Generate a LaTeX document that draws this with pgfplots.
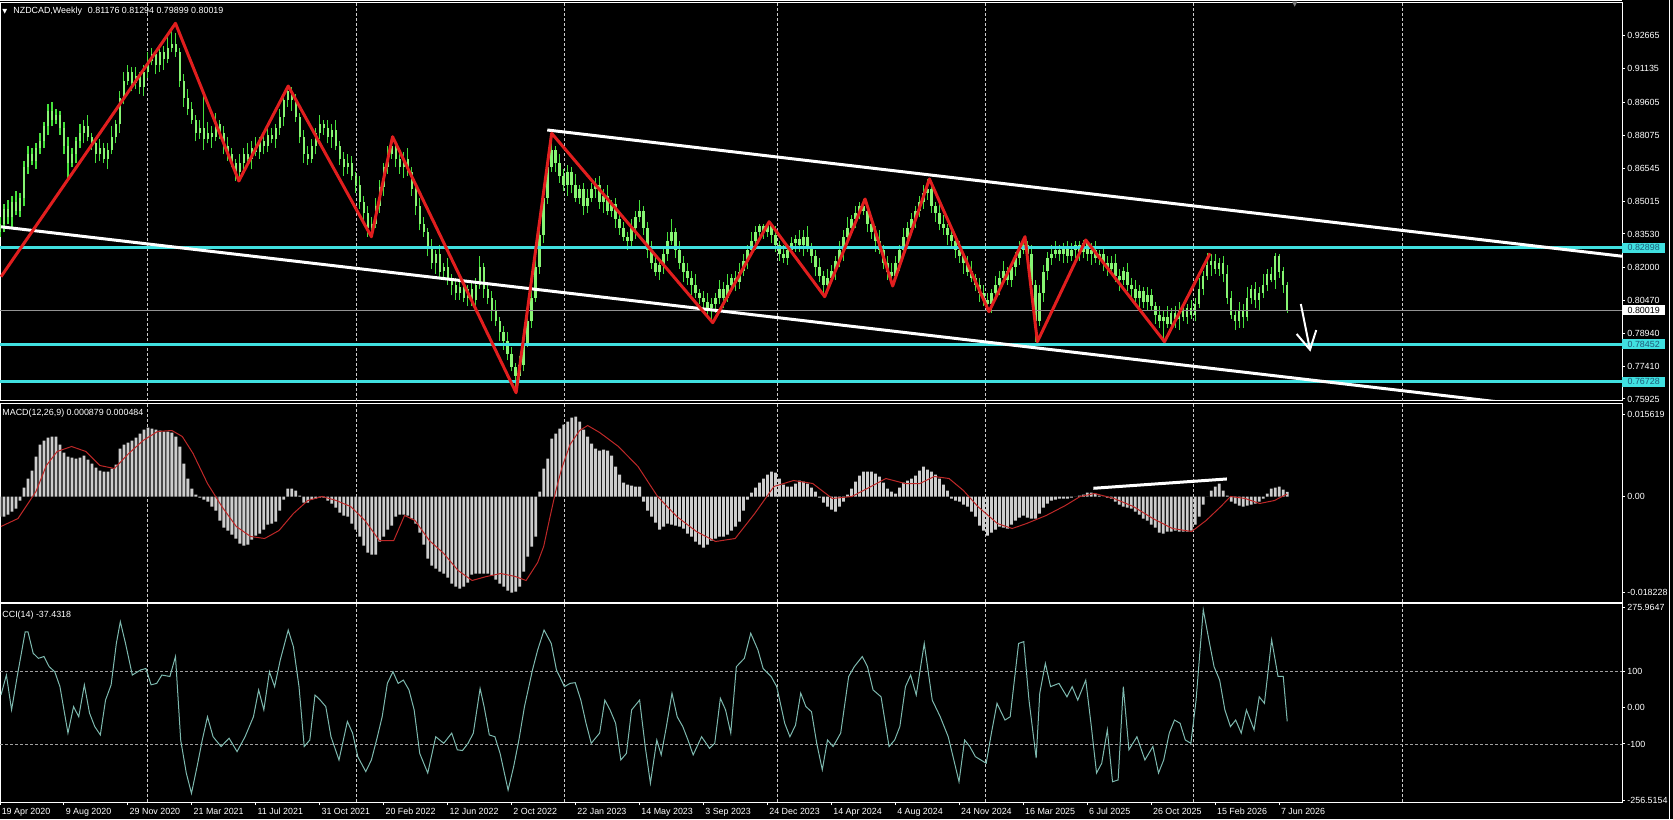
\documentclass[border=0pt]{standalone}
\usepackage{pgfplots}
\pgfplotsset{compat=1.18}
\usepackage{pgfplotstable}
\usepackage{fontspec}
\setmainfont{Liberation Sans}
\newfontfamily\symf{DejaVu Sans}
\usetikzlibrary{arrows.meta}
\definecolor{candle}{RGB}{70,225,60}
\definecolor{candlebody}{RGB}{135,245,115}
\definecolor{turq}{RGB}{64,224,224}
\definecolor{lbl}{RGB}{30,90,120}
\definecolor{zz}{RGB}{225,30,30}
\definecolor{macdbar}{RGB}{205,205,205}
\definecolor{sig}{RGB}{190,40,40}
\definecolor{cciline}{RGB}{125,185,175}
\newcommand\mtf{\fontsize{4.45pt}{5pt}\selectfont}

\pgfplotstableread{
o h l c m
0.836 0.843 0.834 0.840 -0.0038
0.840 0.849 0.836 0.847 -0.0038
0.847 0.851 0.840 0.843 -0.00342
0.843 0.853 0.838 0.850 -0.00285
0.850 0.855 0.844 0.846 -0.00228
0.846 0.854 0.843 0.852 -0.00076
0.852 0.869 0.848 0.866 0.00171
0.866 0.876 0.863 0.872 0.00342
0.872 0.875 0.867 0.869 0.00494
0.869 0.877 0.865 0.875 0.0076
0.875 0.882 0.872 0.878 0.00988
0.878 0.887 0.875 0.885 0.01064
0.885 0.895 0.881 0.892 0.01121
0.892 0.896 0.885 0.888 0.0114
0.888 0.893 0.886 0.890 0.0114
0.890 0.892 0.881 0.884 0.00988
0.884 0.887 0.872 0.876 0.00836
0.876 0.880 0.860 0.868 0.0076
0.868 0.875 0.866 0.872 0.00741
0.872 0.880 0.868 0.878 0.00722
0.878 0.886 0.875 0.882 0.00741
0.882 0.888 0.877 0.885 0.00779
0.885 0.890 0.878 0.880 0.00703
0.880 0.882 0.874 0.877 0.00627
0.877 0.880 0.868 0.872 0.00551
0.872 0.879 0.869 0.875 0.00494
0.875 0.877 0.868 0.870 0.00475
0.870 0.877 0.865 0.874 0.00475
0.874 0.885 0.872 0.880 0.00532
0.880 0.888 0.877 0.886 0.00608
0.886 0.901 0.882 0.898 0.00912
0.898 0.910 0.895 0.906 0.00988
0.906 0.913 0.904 0.910 0.01026
0.910 0.912 0.901 0.905 0.01064
0.905 0.912 0.902 0.908 0.01121
0.908 0.910 0.900 0.903 0.01197
0.903 0.913 0.899 0.910 0.01273
0.910 0.919 0.907 0.915 0.01311
0.915 0.921 0.913 0.918 0.01292
0.918 0.920 0.909 0.913 0.01273
0.913 0.923 0.910 0.919 0.01254
0.919 0.922 0.911 0.916 0.01235
0.916 0.926 0.914 0.921 0.01235
0.921 0.930 0.919 0.923 0.01216
0.923 0.928 0.917 0.919 0.0114
0.919 0.921 0.903 0.906 0.0095
0.906 0.909 0.894 0.898 0.00627
0.898 0.902 0.890 0.893 0.00342
0.893 0.896 0.886 0.888 0.00152
0.888 0.890 0.878 0.882 0.00038
0.882 0.888 0.879 0.884 -0.00019
0.884 0.900 0.874 0.879 -0.00057
0.879 0.887 0.877 0.882 -0.00095
0.882 0.885 0.875 0.880 -0.0019
0.880 0.891 0.878 0.886 -0.00266
0.886 0.888 0.879 0.882 -0.00456
0.882 0.885 0.872 0.876 -0.00589
0.876 0.880 0.869 0.872 -0.00646
0.872 0.875 0.866 0.868 -0.00722
0.868 0.870 0.8597 0.864 -0.00798
0.864 0.872 0.861 0.868 -0.00893
0.868 0.875 0.863 0.872 -0.00931
0.872 0.877 0.868 0.870 -0.00912
0.870 0.878 0.865 0.875 -0.00817
0.875 0.880 0.871 0.873 -0.00741
0.873 0.880 0.870 0.878 -0.00703
0.878 0.881 0.872 0.876 -0.00627
0.876 0.885 0.873 0.881 -0.00532
0.881 0.884 0.877 0.879 -0.00513
0.879 0.886 0.875 0.884 -0.00475
0.884 0.893 0.881 0.889 -0.00266
0.889 0.900 0.885 0.897 -0.00057
0.897 0.9035 0.894 0.901 0.00152
0.901 0.903 0.892 0.897 0.00152
0.897 0.900 0.887 0.889 0.00114
0.889 0.891 0.877 0.880 0.00019
0.880 0.883 0.868 0.872 -0.00114
0.872 0.876 0.867 0.870 -0.00114
0.870 0.879 0.868 0.876 -0.00057
0.876 0.884 0.872 0.882 -0.00038
0.882 0.890 0.879 0.886 -0.00019
0.886 0.888 0.881 0.884 -0.00019
0.884 0.888 0.877 0.880 -0.00076
0.880 0.886 0.875 0.883 -0.00133
0.883 0.888 0.874 0.876 -0.00209
0.876 0.878 0.867 0.870 -0.00304
0.870 0.873 0.862 0.866 -0.00361
0.866 0.872 0.863 0.868 -0.0038
0.868 0.871 0.860 0.862 -0.00513
0.862 0.864 0.854 0.858 -0.00627
0.858 0.862 0.847 0.850 -0.0076
0.850 0.853 0.841 0.845 -0.00931
0.845 0.848 0.834 0.838 -0.01064
0.838 0.843 0.835 0.840 -0.01102
0.840 0.852 0.838 0.848 -0.01102
0.848 0.860 0.845 0.857 -0.00855
0.857 0.868 0.853 0.866 -0.0076
0.866 0.876 0.863 0.872 -0.00627
0.872 0.880 0.870 0.876 -0.00551
0.876 0.878 0.866 0.870 -0.0038
0.870 0.874 0.863 0.866 -0.00342
0.866 0.873 0.861 0.870 -0.00342
0.870 0.875 0.862 0.864 -0.00361
0.864 0.866 0.853 0.856 -0.00418
0.856 0.859 0.844 0.848 -0.00513
0.848 0.852 0.837 0.840 -0.00684
0.840 0.843 0.834 0.836 -0.00912
0.836 0.838 0.825 0.829 -0.01178
0.829 0.833 0.819 0.822 -0.01311
0.822 0.828 0.817 0.826 -0.01368
0.826 0.830 0.815 0.818 -0.01425
0.818 0.822 0.814 0.820 -0.01463
0.820 0.824 0.812 0.815 -0.01539
0.815 0.817 0.807 0.812 -0.01653
0.812 0.815 0.805 0.808 -0.0171
0.808 0.815 0.805 0.811 -0.01748
0.811 0.814 0.804 0.806 -0.0171
0.806 0.812 0.802 0.810 -0.01634
0.810 0.813 0.802 0.805 -0.01482
0.805 0.815 0.800 0.812 -0.01463
0.812 0.825 0.810 0.820 -0.01463
0.820 0.822 0.806 0.810 -0.01463
0.810 0.813 0.803 0.806 -0.01463
0.806 0.809 0.795 0.800 -0.01501
0.800 0.805 0.793 0.795 -0.01577
0.795 0.797 0.786 0.790 -0.01653
0.790 0.793 0.782 0.786 -0.0171
0.786 0.790 0.777 0.780 -0.01786
0.780 0.783 0.772 0.774 -0.01824
0.774 0.776 0.762 0.770 -0.01805
0.770 0.779 0.767 0.775 -0.0171
0.775 0.788 0.772 0.785 -0.01425
0.785 0.799 0.783 0.795 -0.0114
0.795 0.809 0.792 0.806 -0.0095
0.806 0.825 0.804 0.820 -0.0076
0.820 0.837 0.817 0.835 0.00095
0.835 0.855 0.831 0.852 0.00532
0.852 0.870 0.849 0.866 0.00722
0.866 0.881 0.864 0.874 0.01102
0.874 0.876 0.864 0.868 0.01197
0.868 0.872 0.859 0.862 0.01292
0.862 0.865 0.855 0.858 0.01368
0.858 0.867 0.853 0.864 0.01425
0.864 0.866 0.854 0.858 0.01501
0.858 0.863 0.850 0.852 0.0152
0.852 0.858 0.849 0.856 0.01425
0.856 0.859 0.844 0.848 0.01273
0.848 0.856 0.845 0.852 0.0114
0.852 0.859 0.850 0.856 0.01007
0.856 0.861 0.852 0.858 0.00912
0.858 0.862 0.847 0.850 0.00874
0.850 0.856 0.845 0.853 0.00893
0.853 0.858 0.844 0.846 0.00874
0.846 0.851 0.843 0.849 0.00779
0.849 0.852 0.838 0.842 0.0057
0.842 0.846 0.835 0.838 0.00418
0.838 0.841 0.832 0.834 0.00266
0.834 0.836 0.828 0.832 0.00228
0.832 0.842 0.829 0.838 0.00209
0.838 0.846 0.833 0.843 0.0019
0.843 0.851 0.841 0.846 0.0019
0.846 0.848 0.835 0.838 -0.00095
0.838 0.841 0.824 0.828 -0.00266
0.828 0.832 0.819 0.822 -0.0038
0.822 0.825 0.816 0.818 -0.00494
0.818 0.823 0.814 0.821 -0.00627
0.821 0.829 0.817 0.826 -0.0057
0.826 0.836 0.823 0.832 -0.00513
0.832 0.842 0.830 0.836 -0.00532
0.836 0.838 0.824 0.828 -0.00551
0.828 0.832 0.819 0.822 -0.0057
0.822 0.825 0.813 0.818 -0.00608
0.818 0.822 0.812 0.815 -0.00703
0.815 0.818 0.807 0.812 -0.0076
0.812 0.817 0.806 0.808 -0.00855
0.808 0.810 0.803 0.806 -0.00912
0.806 0.809 0.800 0.804 -0.00969
0.804 0.808 0.798 0.801 -0.00912
0.801 0.806 0.7944 0.803 -0.00836
0.803 0.808 0.799 0.806 -0.00798
0.806 0.814 0.803 0.810 -0.0076
0.810 0.813 0.801 0.806 -0.0076
0.806 0.817 0.804 0.812 -0.00722
0.812 0.817 0.809 0.815 -0.00646
0.815 0.818 0.809 0.813 -0.0057
0.813 0.822 0.810 0.818 -0.00475
0.818 0.826 0.816 0.823 -0.00266
0.823 0.830 0.819 0.828 -0.00057
0.828 0.836 0.825 0.832 0.00076
0.832 0.839 0.828 0.836 0.00171
0.836 0.840 0.832 0.839 0.00266
0.839 0.840 0.833 0.836 0.00342
0.836 0.8409 0.834 0.840 0.00418
0.840 0.840 0.831 0.835 0.00475
0.835 0.839 0.827 0.830 0.00456
0.830 0.832 0.823 0.826 0.00342
0.826 0.830 0.822 0.824 0.00228
0.824 0.830 0.821 0.828 0.0019
0.828 0.834 0.826 0.831 0.0019
0.831 0.835 0.827 0.833 0.00247
0.833 0.837 0.827 0.830 0.00304
0.830 0.837 0.825 0.834 0.00285
0.834 0.839 0.827 0.829 0.00247
0.829 0.831 0.822 0.825 0.00171
0.825 0.828 0.816 0.820 0.00095
0.820 0.824 0.813 0.816 -0.00019
0.816 0.818 0.8064 0.812 -0.00114
0.812 0.819 0.809 0.815 -0.0019
0.815 0.821 0.813 0.818 -0.00247
0.818 0.825 0.814 0.823 -0.00285
0.823 0.832 0.820 0.828 -0.0019
0.828 0.837 0.823 0.834 -0.00095
0.834 0.843 0.832 0.838 0.00038
0.838 0.844 0.835 0.842 0.00152
0.842 0.848 0.838 0.845 0.00285
0.845 0.850 0.842 0.848 0.00399
0.848 0.8514 0.844 0.846 0.00475
0.846 0.848 0.836 0.840 0.00475
0.840 0.844 0.833 0.836 0.00475
0.836 0.839 0.827 0.832 0.00437
0.832 0.837 0.826 0.828 0.0038
0.828 0.830 0.819 0.822 0.00266
0.822 0.825 0.814 0.818 0.00152
0.818 0.822 0.8113 0.816 0.00095
0.816 0.825 0.814 0.822 0.00057
0.822 0.830 0.818 0.828 0.00171
0.828 0.838 0.825 0.834 0.00266
0.834 0.841 0.829 0.838 0.00304
0.838 0.845 0.836 0.842 0.00342
0.842 0.848 0.838 0.846 0.00399
0.846 0.853 0.843 0.850 0.00494
0.850 0.858 0.847 0.854 0.0057
0.854 0.8606 0.851 0.856 0.00513
0.856 0.859 0.845 0.848 0.00475
0.848 0.850 0.841 0.845 0.00418
0.845 0.849 0.837 0.840 0.00342
0.840 0.844 0.835 0.838 0.00228
0.838 0.840 0.830 0.835 0.00114
0.835 0.839 0.829 0.832 -0.00038
0.832 0.835 0.824 0.828 -0.00076
0.828 0.832 0.822 0.825 -0.00095
0.825 0.827 0.817 0.822 -0.00152
0.822 0.825 0.816 0.818 -0.0019
0.818 0.823 0.813 0.815 -0.00285
0.815 0.817 0.809 0.812 -0.0038
0.812 0.815 0.804 0.808 -0.00551
0.808 0.812 0.802 0.805 -0.00646
0.805 0.808 0.7995 0.803 -0.00741
0.803 0.810 0.799 0.808 -0.00684
0.808 0.816 0.805 0.812 -0.00627
0.812 0.818 0.807 0.815 -0.0057
0.815 0.823 0.813 0.818 -0.00589
0.818 0.820 0.812 0.814 -0.00608
0.814 0.822 0.811 0.820 -0.00532
0.820 0.827 0.816 0.824 -0.00456
0.824 0.832 0.821 0.828 -0.00399
0.828 0.834 0.826 0.830 -0.00361
0.830 0.832 0.822 0.826 -0.00399
0.826 0.830 0.809 0.812 -0.00418
0.812 0.814 0.7856 0.795 -0.00418
0.795 0.812 0.793 0.808 -0.00323
0.808 0.821 0.804 0.818 -0.00209
0.818 0.827 0.814 0.824 -0.00133
0.824 0.830 0.821 0.826 -0.00076
0.826 0.832 0.824 0.828 -0.00057
0.828 0.830 0.823 0.826 -0.00038
0.826 0.831 0.822 0.829 -0.00038
0.829 0.832 0.822 0.825 -0.00038
0.825 0.831 0.823 0.828 -0.00019
0.828 0.832 0.824 0.830 0
0.830 0.832 0.823 0.827 0.00019
0.827 0.8325 0.824 0.831 0.00038
0.831 0.832 0.823 0.826 0.00076
0.826 0.831 0.821 0.828 0.00076
0.828 0.832 0.822 0.824 0.00057
0.824 0.828 0.821 0.826 0.00019
0.826 0.829 0.818 0.822 0
0.822 0.825 0.816 0.819 -0.00019
0.819 0.825 0.817 0.822 -0.00038
0.822 0.826 0.813 0.816 -0.00095
0.816 0.819 0.809 0.814 -0.00152
0.814 0.820 0.812 0.818 -0.0019
0.818 0.822 0.809 0.812 -0.00209
0.812 0.815 0.806 0.810 -0.00228
0.810 0.814 0.803 0.806 -0.00285
0.806 0.812 0.801 0.809 -0.00342
0.809 0.811 0.801 0.804 -0.00418
0.804 0.811 0.800 0.807 -0.00456
0.807 0.810 0.800 0.802 -0.00532
0.802 0.804 0.794 0.798 -0.00589
0.798 0.802 0.792 0.795 -0.00684
0.795 0.800 0.7856 0.797 -0.00703
0.797 0.802 0.792 0.794 -0.00665
0.794 0.801 0.791 0.799 -0.00665
0.799 0.802 0.792 0.796 -0.00646
0.796 0.804 0.791 0.800 -0.00665
0.800 0.803 0.795 0.797 -0.00665
0.797 0.803 0.794 0.801 -0.00665
0.801 0.805 0.796 0.798 -0.00646
0.798 0.806 0.795 0.803 -0.00532
0.803 0.815 0.801 0.810 -0.0038
0.810 0.818 0.807 0.816 -0.00152
0.816 0.8264 0.814 0.821 0
0.821 0.826 0.816 0.823 0.00114
0.823 0.826 0.817 0.819 0.0019
0.819 0.824 0.816 0.822 0.00247
0.822 0.825 0.813 0.817 0.00114
0.817 0.821 0.803 0.806 0.00019
0.806 0.809 0.796 0.798 -0.00095
0.798 0.800 0.791 0.795 -0.00133
0.795 0.804 0.792 0.800 -0.00171
0.800 0.803 0.792 0.797 -0.0019
0.797 0.811 0.795 0.806 -0.00171
0.806 0.812 0.803 0.810 -0.00152
0.810 0.813 0.801 0.805 -0.00133
0.805 0.811 0.800 0.808 -0.00095
0.808 0.817 0.806 0.812 -0.00038
0.812 0.819 0.809 0.817 0.00057
0.817 0.820 0.813 0.814 0.00152
0.814 0.8264 0.810 0.825 0.00171
0.825 0.826 0.815 0.818 0.0019
0.818 0.820 0.808 0.8118 0.00133
0.81176 0.81294 0.79899 0.80019 0.000879
}\bars

\pgfplotsset{
  mtaxis/.style={
    scale only axis, width=811pt, xmin=0, xmax=405.75,
    scaled y ticks=false, scaled x ticks=false,
    axis line style={white, line width=0.5pt},
    tick style={white, line width=0.5pt},
    tick align=outside, major tick length=1.5pt,
    ytick pos=right, yticklabel pos=right,
    yticklabel style={font=\mtf, text=white, anchor=west, inner sep=0pt, xshift=1pt},
    xtick=\empty,
    extra x ticks={36.9,89.1,141.1,194.4,246.5,298.6,350.7},
    extra x tick labels={},
    extra x tick style={grid=major, major tick length=0pt},
    major grid style={white!80!black, line width=0.45pt, dash pattern=on 1.5pt off 1pt},
  },
  nomark/.style={only marks, mark=*, mark size=0pt, mark options={draw=none, fill=none}},
}

\begin{document}
\begin{tikzpicture}
\fill[black] (0,0) rectangle (836.5pt,409.5pt);
\path[use as bounding box] (0,0) rectangle (836.5pt,409.5pt);

% ---------- price panel ----------
\begin{axis}[mtaxis, at={(0pt,209pt)}, anchor=south west, height=199pt,
  ymin=0.75832, ymax=0.94172,
  ytick={0.92665,0.91135,0.89605,0.88075,0.86545,0.85015,0.83530,0.82000,0.80470,0.78940,0.77410,0.75925},
  yticklabels={0.92665,0.91135,0.89605,0.88075,0.86545,0.85015,0.83530,0.82000,0.80470,0.78940,0.77410,0.75925}]
\addplot[candle, nomark, error bars/.cd, y dir=plus, y explicit, error mark=none,
  error bar style={line width=0.55pt, color=candle}]
  table[x expr=\coordindex, y=l, y error expr=\thisrow{h}-\thisrow{l}] {\bars};
\addplot[candlebody, nomark, error bars/.cd, y dir=both, y explicit, error mark=none,
  error bar style={line width=1.2pt, color=candlebody}]
  table[x expr=\coordindex, y expr=(\thisrow{o}+\thisrow{c})/2, y error expr=abs(\thisrow{c}-\thisrow{o})/2] {\bars};
\addplot[gray!85, line width=0.4pt] coordinates {(0,0.80019) (405.75,0.80019)};
\addplot[turq, line width=1.6pt] coordinates {(0,0.82898) (405.75,0.82898)};
\addplot[turq, line width=1.6pt] coordinates {(0,0.78452) (405.75,0.78452)};
\addplot[turq, line width=1.6pt] coordinates {(0,0.76728) (405.75,0.76728)};
\addplot[white, line width=1.5pt] coordinates {(136.9,0.8832) (406.8,0.8248)};
\addplot[white, line width=1.5pt] coordinates {(0.25,0.8386) (406.8,0.7510)};
\addplot[zz, line width=1.5pt, line join=round] coordinates {
 (0.25,0.8156) (43.9,0.93236) (59.75,0.8597) (72.1,0.90347) (92.9,0.83403) (98.2,0.88011)
 (129.1,0.76214) (138.0,0.88168) (178.3,0.79440) (192.4,0.84094) (206.3,0.80638) (216.4,0.85140)
 (223.3,0.81131) (232.5,0.86062) (247.4,0.79947) (256.4,0.83403) (259.5,0.78564) (271.6,0.83251)
 (291.3,0.78564) (302.7,0.82638)};
\addplot[white, line width=1pt, -{Straight Barb[length=9pt,width=10pt]}] coordinates {(325.4,0.80302) (327.8,0.78104)};
\coordinate (L1) at (axis cs:405.75,0.82898);
\coordinate (L2) at (axis cs:405.75,0.80019);
\coordinate (L3) at (axis cs:405.75,0.78452);
\coordinate (L4) at (axis cs:405.75,0.76728);
\end{axis}

% ---------- MACD panel ----------
\begin{axis}[mtaxis, at={(0pt,108.5pt)}, anchor=south west, height=99.25pt,
  ymin=-0.020045, ymax=0.01767,
  ytick={0.015619,0,-0.018228}, yticklabels={0.015619,0.00,-0.018228}]
\addplot[ybar, bar width=1.4pt, bar shift=0pt, fill=macdbar, draw=none] table[x expr=\coordindex, y=m] {\bars};
\addplot[sig, line width=0.5pt] coordinates {
 (0.25,-0.0057) (4.5,-0.00418) (9,0.00095) (11.6,0.00589) (14.3,0.00855) (17.9,0.0095) (21.5,0.00855)
 (25,0.00589) (28.6,0.00532) (32.2,0.00817) (35.8,0.01064) (39.4,0.01235) (43,0.01254) (45.6,0.0114)
 (48.3,0.00817) (51.9,0.00247) (55.5,-0.0019) (59.1,-0.0057) (62.7,-0.0076) (66.2,-0.00798)
 (69.8,-0.00646) (73.4,-0.00323) (77,-0.00076) (80.6,0) (84.1,-0.00076) (87.7,-0.0019) (91.3,-0.00456)
 (94.9,-0.00836) (98.5,-0.00836) (101.2,-0.00361) (103.8,-0.00456) (107.4,-0.00836) (111,-0.01083)
 (114.6,-0.01406) (118.1,-0.01596) (121.7,-0.0152) (125.3,-0.01463) (128.9,-0.0152) (131.6,-0.01596)
 (134.5,-0.01254) (136,-0.0095) (137.5,-0.00418) (139,0.00095) (140.5,0.00532) (142.6,0.00988)
 (145,0.01254) (147,0.01349) (150,0.01216) (154.7,0.0095) (159.6,0.0057) (164.5,0) (169.3,-0.0038)
 (174.2,-0.00665) (179,-0.00855) (183.9,-0.00798) (188.8,-0.00323) (193.6,0.0019) (198.5,0.00304)
 (203.3,0.00247) (208.2,-0.00038) (213.1,0) (217.9,0.0019) (221.6,0.00342) (226.4,0.00247)
 (230.1,0.00247) (233.7,0.0038) (237.4,0.00342) (241,0.00114) (244.6,-0.0019) (249.5,-0.00513)
 (253.2,-0.00608) (256.8,-0.00513) (261.7,-0.00361) (266.5,-0.00171) (270.2,0) (273.8,0.00057)
 (278.7,-0.00038) (283.5,-0.0019) (288.4,-0.00418) (293.3,-0.00608) (298.1,-0.00665) (301.7,-0.00456)
 (305.4,-0.0019) (307.8,0) (311.5,-0.00038) (315.1,-0.00133) (318.8,-0.00076) (322,0.000484)};
\addplot[white, line width=1.5pt] coordinates {(273.5,0.00156) (306.9,0.00333)};
\end{axis}

% ---------- CCI panel ----------
\begin{axis}[mtaxis, at={(0pt,8.5pt)}, anchor=south west, height=99pt,
  ymin=-259.8, ymax=285.7,
  ytick={275.9647,100,0,-100,-256.5154}, yticklabels={275.9647,100,0.00,-100,-256.5154},
  xtick={0,16,...,320}, xtick pos=bottom,
  xticklabels={19 Apr 2020,9 Aug 2020,29 Nov 2020,21 Mar 2021,11 Jul 2021,31 Oct 2021,20 Feb 2022,12 Jun 2022,2 Oct 2022,22 Jan 2023,14 May 2023,3 Sep 2023,24 Dec 2023,14 Apr 2024,4 Aug 2024,24 Nov 2024,16 Mar 2025,6 Jul 2025,26 Oct 2025,15 Feb 2026,7 Jun 2026},
  xticklabel style={font=\mtf, text=white, anchor=north west, inner sep=0pt, xshift=0.7pt, yshift=-1.2pt}]
\addplot[gray!75, line width=0.4pt, dash pattern=on 1.5pt off 1pt] coordinates {(0,100) (405.75,100)};
\addplot[gray!75, line width=0.4pt, dash pattern=on 1.5pt off 1pt] coordinates {(0,-100) (405.75,-100)};
\addplot[cciline, line width=0.5pt] coordinates {
 (0.25,35) (1.6,90) (2.9,-6) (4.3,86) (6.3,209) (7,209) (8.3,150) (9.6,136) (11,141) (12.3,113) (13.7,99)
 (15,58) (17,-70) (18.4,3) (19.7,-25) (21.1,63) (22.4,-15) (23.7,-52) (25.1,-75) (26.4,21) (27.8,63)
 (29.1,177) (30.1,237) (31.4,177) (33.1,90) (35.2,104) (36.5,108) (37.8,63) (39.2,67) (40.5,90) (42.5,86)
 (43.9,141) (45.2,-89) (46.6,-180) (47.9,-236) (49.3,-162) (50.6,-89) (51.9,-25) (53.3,-80) (55.3,-107)
 (57.3,-84) (59.3,-121) (61.3,-80) (63.4,-25) (64.7,49) (66,-6) (67.4,99) (68.7,58) (70.1,131) (72.1,214)
 (73.4,168) (74.8,58) (76.1,-107) (77.5,-89) (78.8,35) (80.1,21) (81.5,3) (82.8,-80) (84.8,-144)
 (86.9,-38) (88.2,-70) (89.5,-135) (91.5,-176) (92.9,-144) (94.2,-89) (95.6,-25) (96.9,67) (98.3,99)
 (99.6,67) (100.9,76) (102.3,49) (103.6,-6) (105,-126) (107,-180) (109,-80) (111,-98) (113,-70)
 (114.4,-116) (115.7,-118) (117.1,-98) (118.4,-70) (120.1,53) (121.1,3) (122.4,-75) (123.8,-80)
 (125.1,-126) (127.1,-227) (128.5,-162) (129.8,-89) (131.2,3) (133.2,104) (134.5,159) (136.1,214)
 (137.9,177) (139.2,104) (141.2,58) (142.6,67) (143.9,69) (145.3,21) (146.6,-43) (147.9,-98) (150,-70)
 (151.3,21) (152.6,-6) (154,-43) (155.3,-144) (156.7,-126) (158,-6) (160,21) (161.4,-107) (162.7,-208)
 (164.3,-89) (165.4,-130) (166.7,-52) (168.1,40) (169.4,-25) (170.8,-52) (172.1,-89) (173.4,-130)
 (175.5,-80) (177.5,-112) (178.8,-98) (180.2,26) (181.5,-6) (182.8,-70) (184.2,113) (186.2,136)
 (187.8,205) (189.6,159) (190.9,108) (192.9,86) (194.3,58) (196.3,-43) (197.6,-80) (199,-48) (200.3,40)
 (201.6,3) (203,-11) (204.3,-98) (205.7,-171) (207,-89) (208.4,-107) (210.3,-70) (212.3,86) (213.7,113)
 (215.7,141) (217,113) (218.4,49) (220.4,30) (222.4,-107) (223.8,-89) (225.1,-52) (226.5,58) (227.8,90)
 (229.2,35) (231.2,177) (233.2,21) (235.2,-25) (237.2,-80) (238.6,-144) (239.9,-204) (241.3,-89)
 (242.6,-107) (244,-135) (246.7,-153) (248,-70) (249.4,12) (251.4,-34) (252.7,-25) (254.8,177)
 (256.1,182) (257.4,21) (259.2,-139) (260.1,40) (261.5,122) (262.8,58) (264.9,67) (266.9,30) (268.2,58)
 (269.6,21) (271.6,76) (273,-52) (274.3,-180) (275.6,-153) (277,-61) (278.3,-204) (279.7,-199) (281,58)
 (282.4,-116) (284.4,-80) (286.4,-144) (288.4,-107) (289.8,-180) (291.1,-144) (292.5,-70) (293.8,-34)
 (295.2,-43) (296.5,-89) (297.9,-98) (299.2,21) (301,270) (302.4,187) (303.7,113) (305.1,76) (306.4,-6)
 (307.8,-52) (309.1,-34) (310.5,-70) (311.8,-6) (313.7,-61) (315,30) (316.3,12) (318.1,187) (319.7,86)
 (321,86) (322,-37.4)};
\end{axis}

% ---------- frame decorations and labels ----------
\draw[white, line width=0.5pt] (0,409.15pt) -- (811pt,409.15pt);
\draw[white, line width=0.5pt] (834.75pt,0) -- (834.75pt,409.5pt);
\node[anchor=west, fill=turq, text=lbl, font=\mtf, inner xsep=2.6pt, inner ysep=0.9pt] at (L1) {0.82898};
\node[anchor=west, fill=white, text=black, font=\mtf, inner xsep=2.6pt, inner ysep=0.9pt] at (L2) {0.80019};
\node[anchor=west, fill=turq, text=lbl, font=\mtf, inner xsep=2.6pt, inner ysep=0.9pt] at (L3) {0.78452};
\node[anchor=west, fill=turq, text=lbl, font=\mtf, inner xsep=2.6pt, inner ysep=0.9pt] at (L4) {0.76728};
\node[anchor=west, font={\symf\fontsize{3.2pt}{4pt}\selectfont}, text=white, inner sep=0pt] at (1pt,403.7pt) {▼};
\node[anchor=west, font=\mtf, text=white, inner sep=0pt] at (6.5pt,403.65pt) {NZDCAD,Weekly\hspace{3pt}0.81176 0.81294 0.79899 0.80019};
\node[anchor=west, font=\mtf, text=white, inner sep=0pt] at (1pt,202.85pt) {MACD(12,26,9) 0.000879 0.000484};
\node[anchor=west, font=\mtf, text=white, inner sep=0pt] at (1pt,102pt) {CCI(14) -37.4318};
\node[font={\symf\fontsize{3.5pt}{4pt}\selectfont}, text=gray, inner sep=0pt] at (647.35pt,407pt) {▼};
\end{tikzpicture}
\end{document}
